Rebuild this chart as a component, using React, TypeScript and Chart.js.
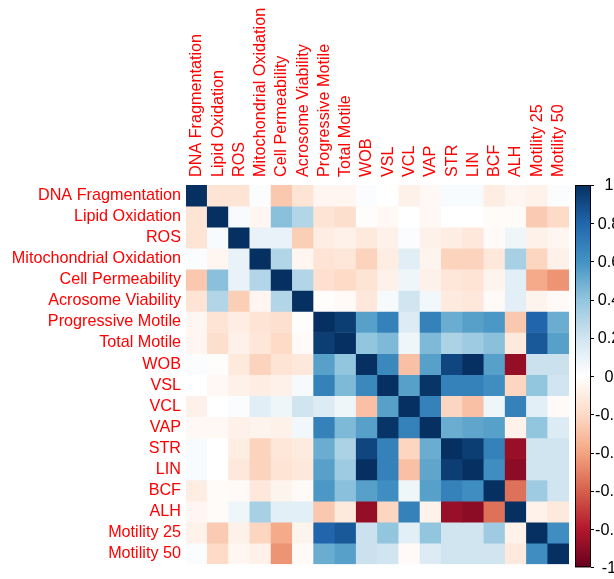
import { useEffect, useRef } from "react";
import { Chart, registerables } from "chart.js";

Chart.register(...registerables);

const variables = [
  "DNA Fragmentation",
  "Lipid Oxidation",
  "ROS",
  "Mitochondrial Oxidation",
  "Cell Permeability",
  "Acrosome Viability",
  "Progressive Motile",
  "Total Motile",
  "WOB",
  "VSL",
  "VCL",
  "VAP",
  "STR",
  "LIN",
  "BCF",
  "ALH",
  "Motility 25",
  "Motility 50",
];

// Upper triangle of the correlation matrix (row i starts at column i)
const upperTriangle = [
  [1, -0.15, -0.15, 0.02, -0.27, -0.15, -0.05, -0.05, 0.02, 0.0, -0.08, -0.04, 0.03, 0.03, -0.1, -0.05, -0.07, 0.02],
  [1, 0.03, -0.05, 0.42, 0.3, -0.15, -0.18, -0.01, -0.04, 0.0, -0.04, 0.0, 0.0, -0.02, -0.02, -0.26, -0.2],
  [1, 0.1, 0.1, -0.25, -0.1, -0.08, -0.12, -0.08, 0.02, -0.08, -0.1, -0.13, -0.03, 0.07, -0.08, -0.05],
  [1, 0.3, -0.05, -0.15, -0.14, -0.23, -0.1, 0.13, -0.06, -0.23, -0.23, -0.13, 0.33, -0.22, -0.08],
  [1, 0.3, -0.17, -0.2, -0.15, -0.08, 0.07, -0.08, -0.14, -0.15, -0.06, 0.12, -0.38, -0.45],
  [1, -0.01, -0.03, -0.13, 0.04, 0.2, 0.06, -0.11, -0.13, -0.03, 0.12, -0.06, -0.03],
  [1, 0.95, 0.55, 0.68, 0.15, 0.68, 0.5, 0.55, 0.58, -0.27, 0.8, 0.5],
  [1, 0.4, 0.45, 0.07, 0.45, 0.32, 0.36, 0.42, -0.12, 0.85, 0.55],
  [1, 0.65, -0.3, 0.55, 0.92, 1.0, 0.55, -0.88, 0.22, 0.22],
  [1, 0.55, 0.98, 0.68, 0.68, 0.62, -0.22, 0.4, 0.2],
  [1, 0.68, -0.22, -0.3, 0.07, 0.68, 0.12, -0.03],
  [1, 0.5, 0.53, 0.55, -0.07, 0.4, 0.15],
  [1, 0.95, 0.68, -0.87, 0.2, 0.2],
  [1, 0.62, -0.9, 0.2, 0.2],
  [1, -0.55, 0.36, 0.2],
  [1, -0.07, -0.12],
  [1, 0.62],
  [1],
];

const colorbarTicks = [-1, -0.8, -0.6, -0.4, -0.2, 0, 0.2, 0.4, 0.6, 0.8, 1];
const colorbarLabels = ["-1", "-0.8", "-0.6", "-0.4", "-0.2", "0", "0.2", "0.4", "0.6", "0.8", "1"];

const palette = [
  "#67001F", "#B2182B", "#D6604D", "#F4A582", "#FDDBC7", "#FFFFFF",
  "#D1E5F0", "#92C5DE", "#4393C3", "#2166AC", "#053061",
];

function hexToRgb(h: string) {
  return [parseInt(h.slice(1, 3), 16), parseInt(h.slice(3, 5), 16), parseInt(h.slice(5, 7), 16)];
}

function corrColor(v: number) {
  const t = Math.max(0, Math.min(1, (v + 1) / 2)) * (palette.length - 1);
  const i = Math.min(palette.length - 2, Math.floor(t));
  const f = t - i;
  const a = hexToRgb(palette[i]);
  const b = hexToRgb(palette[i + 1]);
  const c = a.map((x, k) => Math.round(x + (b[k] - x) * f));
  return `rgb(${c[0]},${c[1]},${c[2]})`;
}

function corrAt(i: number, j: number) {
  return i <= j ? upperTriangle[i][j - i] : upperTriangle[j][i - j];
}

const FONT = "'Liberation Sans', Arial, sans-serif";
const LABEL_SIZE = 16.2;

const colorbarPlugin = {
  id: "colorbar",
  afterDraw(chart: any) {
    const { ctx, chartArea } = chart;
    const top = chartArea.top;
    const bottom = chartArea.bottom + 3;
    const x0 = chartArea.right + 6;
    const w = 16;
    ctx.save();
    const g = ctx.createLinearGradient(0, bottom, 0, top);
    palette.forEach((c, k) => g.addColorStop(k / (palette.length - 1), c));
    ctx.fillStyle = g;
    ctx.fillRect(x0, top, w, bottom - top);
    ctx.strokeStyle = "#000";
    ctx.lineWidth = 1;
    ctx.strokeRect(x0 + 0.5, top + 0.5, w - 1, bottom - top - 1);
    ctx.fillStyle = "#000";
    ctx.font = `${LABEL_SIZE}px ${FONT}`;
    ctx.textAlign = "center";
    ctx.textBaseline = "middle";
    colorbarTicks.forEach((v, k) => {
      const y = bottom - ((v + 1) / 2) * (bottom - top);
      ctx.beginPath();
      ctx.moveTo(x0 + w, Math.round(y) + 0.5);
      ctx.lineTo(x0 + w + 3, Math.round(y) + 0.5);
      ctx.stroke();
      ctx.fillText(colorbarLabels[k], x0 + w + 18, y + 1);
    });
    ctx.restore();
  },
};

export default function App() {
  const ref = useRef<HTMLCanvasElement>(null);

  useEffect(() => {
    const canvas = ref.current;
    if (!canvas) return;
    const datasets = variables.map((name, i) => ({
      label: name,
      data: variables.map(() => [i, i + 1]),
      backgroundColor: variables.map((_, j) => corrColor(corrAt(i, j))),
      borderWidth: 0,
      barPercentage: 1,
      categoryPercentage: 1,
      grouped: false,
    }));

    const chart = new Chart(canvas, {
      type: "bar",
      data: { labels: variables, datasets: datasets as any },
      options: {
        responsive: false,
        animation: false,
        maintainAspectRatio: false,
        layout: { padding: { left: 0, top: 0, right: 45, bottom: 10 } },
        plugins: { legend: { display: false }, tooltip: { enabled: false } },
        scales: {
          x: {
            type: "category",
            position: "top",
            offset: true,
            grid: { display: false, drawTicks: false },
            border: { display: false },
            ticks: {
              autoSkip: false,
              minRotation: 90,
              maxRotation: 90,
              color: "#FF0000",
              padding: 8,
              labelOffset: 19.6,
              font: { size: LABEL_SIZE, family: FONT },
            },
            afterFit: (s: any) => {
              s.height = 185;
            },
          },
          y: {
            type: "linear",
            min: 0,
            max: 18,
            reverse: true,
            grid: { display: false, drawTicks: false },
            border: { display: false },
            afterBuildTicks: (s: any) => {
              s.ticks = variables.map((_, i) => ({ value: i + 0.5 }));
            },
            ticks: {
              autoSkip: false,
              color: "#FF0000",
              padding: 5,
              font: { size: LABEL_SIZE, family: FONT },
              callback: (v: any) => variables[Math.floor(Number(v))],
            },
            afterFit: (s: any) => {
              s.width = 186;
            },
          },
        },
      },
      plugins: [colorbarPlugin],
    });
    return () => chart.destroy();
  }, []);

  return (
    <div style={{ position: "fixed", left: 0, top: 0, width: 614, height: 579, background: "#fff" }}>
      <canvas ref={ref} width={614} height={579} style={{ display: "block" }} />
    </div>
  );
}
